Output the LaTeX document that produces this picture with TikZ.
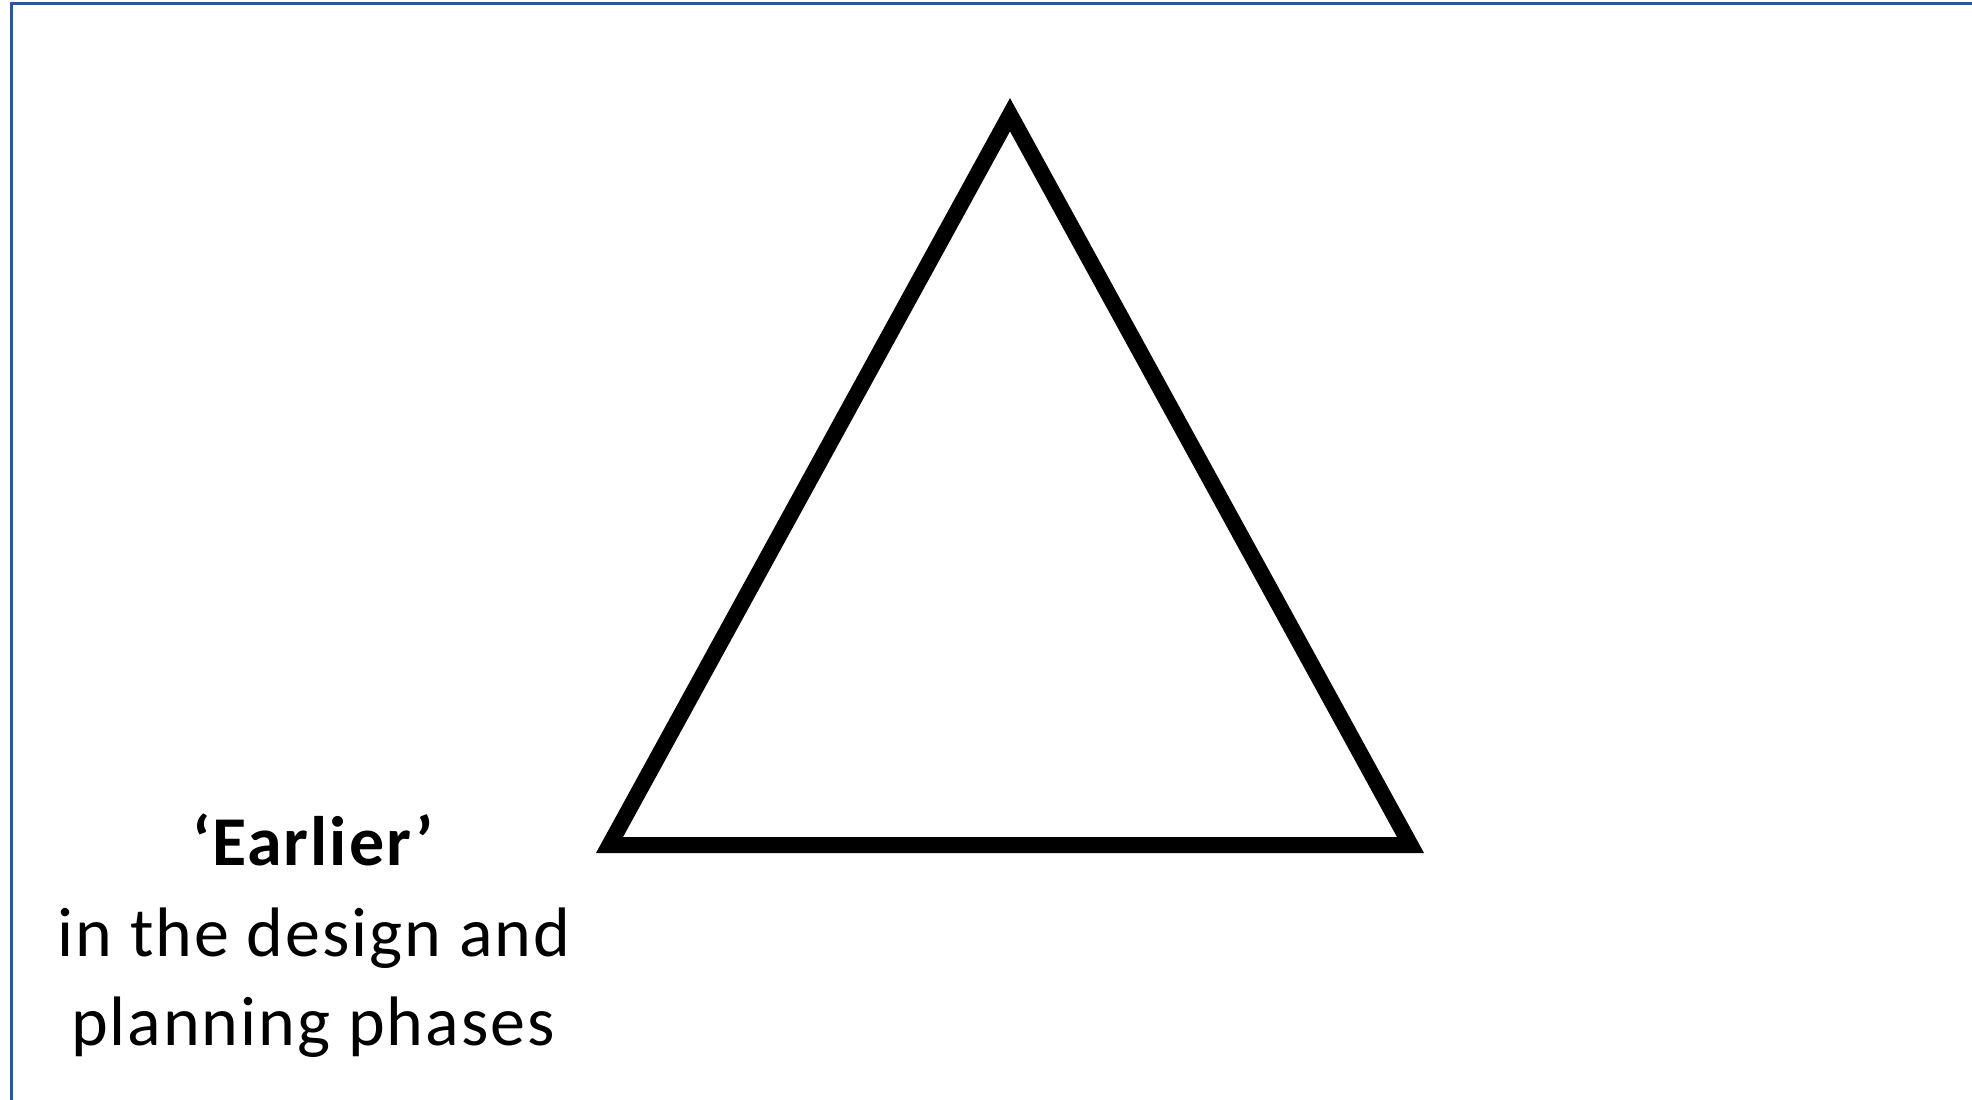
\documentclass[tikz,border=0pt]{standalone}
\usepackage{fontspec}
\setmainfont[LetterSpace=2.8]{Carlito}
\definecolor{framblue}{RGB}{47,85,151}
\begin{document}
\begin{tikzpicture}[x=0.5pt,y=-0.5pt,
  lbl/.style={anchor=base,inner sep=0pt,font=\fontsize{35pt}{45pt}\selectfont},
  tri/.style={draw=black,line width=8pt,line join=miter}]
\useasboundingbox (0,0) rectangle (1972,1099);
\clip (0,0) rectangle (1972,1099);
\fill[white] (0,0) rectangle (1972,1099);
\draw[framblue,line width=1.6pt] (11.5,1200) -- (11.5,3.5) -- (2100,3.5);
\coordinate (apex) at (1010,114.7);
\coordinate (bl) at (609.5,845);
\coordinate (br) at (1410.5,845);
\draw[tri] (apex) -- (bl) -- (br) -- cycle;
\node[lbl] (e1) at (314,865) {\textbf{‘Earlier’}};
\node[lbl] (e2) at (314,956) {in the design and};
\node[lbl] (e3) at (313,1045) {planning phases};
\end{tikzpicture}
\end{document}
